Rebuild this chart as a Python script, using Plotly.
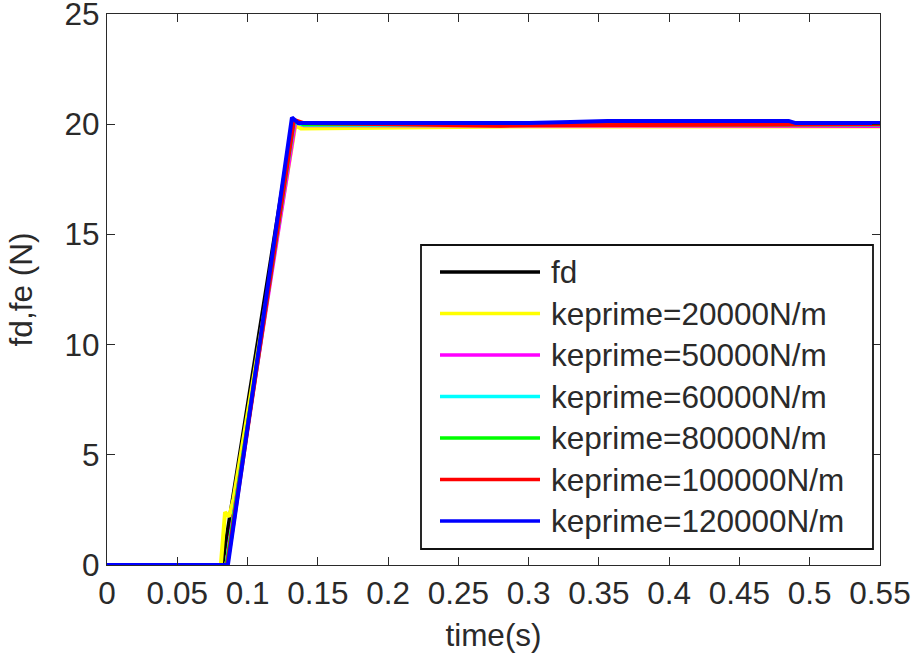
import plotly.graph_objects as go

# Desired force and measured contact force for several environment stiffnesses
names = ["fd", "keprime=20000N/m", "keprime=50000N/m", "keprime=60000N/m",
         "keprime=80000N/m", "keprime=100000N/m", "keprime=120000N/m"]
colors = ["#000000", "#FFFF00", "#FF00FF", "#00FFFF", "#00FF00", "#FF0000", "#0000FF"]

t_fd = [0, 0.082, 0.132, 0.55]
f_fd = [0, 0, 20, 20]

t_20k = [0, 0.081, 0.084, 0.087, 0.090, 0.134, 0.138, 0.20, 0.30, 0.40, 0.55]
f_20k = [0, 0, 2.4, 2.2, 3.0, 19.95, 19.80, 19.85, 19.90, 19.90, 19.90]

t_50k = [0, 0.085, 0.087, 0.134, 0.14, 0.30, 0.52, 0.55]
f_50k = [0, 0, 1.0, 20.1, 19.95, 19.95, 19.92, 19.92]

t_60k = [0, 0.085, 0.133, 0.14, 0.30, 0.37, 0.55]
f_60k = [0, 0, 20.1, 19.97, 19.96, 19.96, 19.97]

t_80k = [0, 0.085, 0.133, 0.14, 0.55]
f_80k = [0, 0, 20.15, 20.0, 20.0]

t_100k = [0, 0.0855, 0.133, 0.14, 0.28, 0.30, 0.45, 0.55]
f_100k = [0, 0, 20.2, 20.05, 19.93, 19.95, 19.97, 20.0]

t_120k = [0, 0.086, 0.1316, 0.136, 0.20, 0.30, 0.33, 0.356, 0.485, 0.49, 0.55]
f_120k = [0, 0, 20.3, 20.05, 20.05, 20.05, 20.1, 20.15, 20.15, 20.05, 20.05]

times = [t_fd, t_20k, t_50k, t_60k, t_80k, t_100k, t_120k]
forces = [f_fd, f_20k, f_50k, f_60k, f_80k, f_100k, f_120k]

x_ticks = [0, 0.05, 0.1, 0.15, 0.2, 0.25, 0.3, 0.35, 0.4, 0.45, 0.5, 0.55]
x_tick_text = ["0", "0.05", "0.1", "0.15", "0.2", "0.25", "0.3", "0.35",
               "0.4", "0.45", "0.5", "0.55"]
y_ticks = [0, 5, 10, 15, 20, 25]
y_tick_text = ["0", "5", "10", "15", "20", "25"]

FONT = "Liberation Sans, Arial, sans-serif"
FS = 31.5
INK = "#2a2a2a"
W, H = 914, 654
ML, MR, MT, MB = 107, 34, 14, 89
PW, PH = W - ML - MR, H - MT - MB

fig = go.Figure()
for t, f, name, c in zip(times, forces, names, colors):
    fig.add_trace(go.Scatter(x=t, y=f, mode="lines", name=name,
                             line=dict(color=c, width=4), showlegend=False))

# Boxed legend drawn in paper coordinates (pixel layout converted to fractions)
def px(xp):
    return (xp - ML) / PW

def py(yp):
    return (H - MB - yp) / PH

shapes = [dict(type="rect", xref="paper", yref="paper",
               x0=px(421), x1=px(873), y0=py(549), y1=py(245),
               line=dict(color="#111111", width=1.8), fillcolor="white")]
annotations = []
row0, step = 272, 41.5
for i, (name, c) in enumerate(zip(names, colors)):
    yy = py(row0 + i * step)
    shapes.append(dict(type="line", xref="paper", yref="paper",
                       x0=px(440), x1=px(540), y0=yy, y1=yy,
                       line=dict(color=c, width=3.5)))
    annotations.append(dict(xref="paper", yref="paper", x=px(549), y=yy,
                            text=name, showarrow=False, xanchor="left",
                            yanchor="middle",
                            font=dict(family=FONT, size=FS, color=INK)))

axis_common = dict(showgrid=False, zeroline=False, showline=True,
                   linecolor=INK, linewidth=1.2, mirror="ticks",
                   ticks="inside", ticklen=8, tickcolor=INK, tickwidth=1.2,
                   ticklabeloverflow="allow", automargin=False,
                   tickfont=dict(family=FONT, size=FS, color=INK))

fig.update_layout(
    width=W, height=H,
    margin=dict(l=ML, r=MR, t=MT, b=MB, autoexpand=False),
    paper_bgcolor="white", plot_bgcolor="white",
    xaxis=dict(range=[0, 0.55], tickvals=x_ticks, ticktext=x_tick_text,
               title=dict(text="time(s)", standoff=14,
                          font=dict(family=FONT, size=FS, color=INK)),
               **axis_common),
    yaxis=dict(range=[0, 25], tickvals=y_ticks, ticktext=y_tick_text,
               title=dict(text="fd,fe (N)", standoff=22,
                          font=dict(family=FONT, size=FS, color=INK)),
               **axis_common),
    shapes=shapes,
    annotations=annotations,
    showlegend=False,
)

fig.write_html("out.html")
